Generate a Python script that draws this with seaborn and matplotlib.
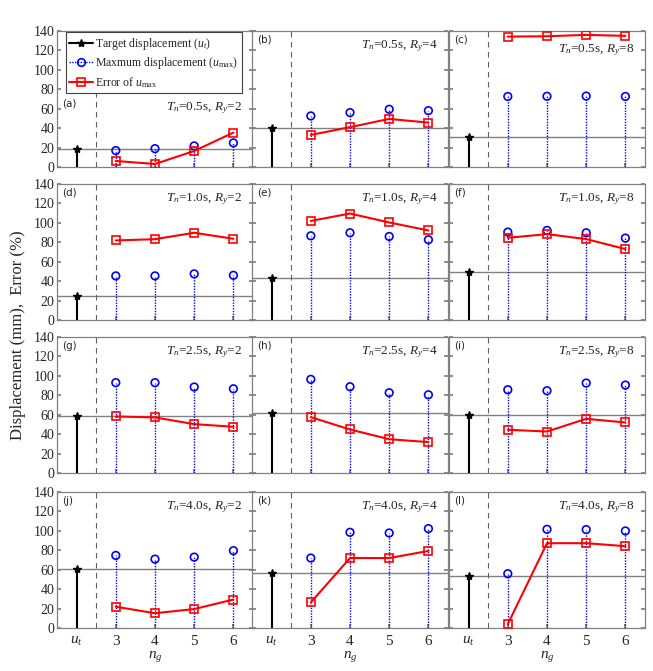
import numpy as np
import pandas as pd
import matplotlib.pyplot as plt
import seaborn as sns
from matplotlib.lines import Line2D

# Panel settings (rows: Tn, columns: Ry)
periods = ["0.5", "1.0", "2.5", "4.0"]
ratios = ["2", "4", "8"]
panel_tags = ["(a)", "(b)", "(c)", "(d)", "(e)", "(f)",
              "(g)", "(h)", "(i)", "(j)", "(k)", "(l)"]
ng_values = [3, 4, 5, 6]

# Target displacement u_t for each panel (mm)
target_disp = [18.6, 40.0, 30.8,
               24.8, 43.3, 49.2,
               58.9, 61.3, 59.2,
               61.0, 57.0, 53.4]

# Maximum displacement u_max for ng = 3..6 (mm)
max_disp = [
    [16.9, 18.9, 21.7, 24.8],
    [52.6, 56.0, 59.4, 58.0],
    [72.6, 72.8, 73.0, 72.6],
    [45.4, 45.4, 47.5, 46.0],
    [86.7, 89.8, 86.0, 82.6],
    [90.5, 92.2, 89.8, 84.3],
    [93.0, 93.0, 88.5, 86.7],
    [96.4, 88.8, 82.6, 80.5],
    [85.7, 84.7, 92.6, 90.5],
    [74.7, 70.9, 73.0, 79.6],
    [72.0, 98.5, 97.8, 102.3],
    [55.9, 101.6, 101.3, 99.9],
]

# Error of u_max (%)
error_pct = [
    [6.2, 3.1, 16.5, 35.4],
    [33.0, 41.0, 49.5, 45.7],
    [134.2, 134.6, 136.0, 135.0],
    [81.9, 83.2, 89.8, 83.6],
    [102.0, 109.6, 100.4, 92.2],
    [84.6, 88.4, 83.3, 73.0],
    [58.2, 57.2, 50.3, 47.6],
    [57.5, 44.8, 34.8, 31.8],
    [44.5, 42.7, 55.8, 52.0],
    [21.9, 15.2, 19.5, 29.3],
    [26.3, 72.0, 72.0, 79.3],
    [4.0, 87.3, 87.3, 84.2],
]

x_labels = ["$u_t$", "3", "4", "5", "6"]

sns.set_theme(style="white")
plt.rcParams["font.family"] = ["Liberation Serif", "DejaVu Serif"]
plt.rcParams["mathtext.fontset"] = "custom"
plt.rcParams["mathtext.rm"] = "Liberation Serif"
plt.rcParams["mathtext.it"] = "Liberation Serif:italic"

fig = plt.figure(figsize=(6.53, 6.71), dpi=100)
W, H = 653, 671
col_left = [57, 252, 449]
col_w = 196
row_top = [31, 184, 337, 492]
row_h = 136

x_pos = np.arange(2, 6)  # ng positions; u_t sits at 1

for i in range(12):
    r, c = divmod(i, 3)
    ax = fig.add_axes([col_left[c] / W, 1 - (row_top[r] + row_h) / H,
                       col_w / W, row_h / H])
    ut = target_disp[i]

    ax.axhline(ut, color="#808080", lw=1.0, zorder=1)
    ax.axvline(1.5, color="#606060", lw=0.8, ls=(0, (5, 4)), zorder=1)

    # target displacement stem
    ax.plot([1, 1], [0, ut], color="black", lw=1.5, zorder=3)
    ax.plot([1], [ut], marker="*", color="black", ms=6, zorder=4)

    # maximum displacement stems
    ax.vlines(x_pos, 0, max_disp[i], colors="blue", lw=1.0,
              linestyles=(0, (1, 1)), zorder=2)
    sns.scatterplot(x=x_pos, y=max_disp[i], ax=ax, marker="o", s=30,
                    facecolor="none", edgecolor="blue", linewidth=1.2, zorder=4)

    # error line
    df = pd.DataFrame({"ng": x_pos, "err": error_pct[i]})
    sns.lineplot(data=df, x="ng", y="err", ax=ax, color="red", lw=1.5,
                 marker="s", markersize=6, markerfacecolor="none",
                 markeredgecolor="red", markeredgewidth=1.2, zorder=5)

    ax.set_xlim(0.5, 5.5)
    ax.set_ylim(0, 140)
    ax.set_yticks(np.arange(0, 141, 20))
    ax.set_xticks([1, 2, 3, 4, 5])
    ax.set_xlabel("")
    ax.set_ylabel("")
    ax.tick_params(direction="in", length=3, color="#808080",
                   labelsize=10, pad=2, right=True, bottom=True, left=True)
    for sp in ax.spines.values():
        sp.set_color("#808080")
        sp.set_linewidth(0.9)

    if c == 0:
        ax.set_yticklabels([str(v) for v in range(0, 141, 20)])
    else:
        ax.set_yticklabels([])
    if r == 3:
        ax.set_xticklabels(x_labels, fontsize=11)
        ax.tick_params(axis="x", pad=5)
        ax.set_xlabel("$n_g$", fontsize=11, labelpad=1)
    else:
        ax.set_xticklabels([])

    note = "$T_n$=" + periods[r] + "s, $R_y$=" + ratios[c]
    if i == 0:
        ax.text(0.027, 0.47, panel_tags[i], transform=ax.transAxes,
                fontsize=7.5, family="DejaVu Sans", va="center")
        ax.text(0.945, 0.43, note, transform=ax.transAxes, ha="right",
                va="center", fontsize=9.5)
    else:
        ax.text(0.027, 0.935, panel_tags[i], transform=ax.transAxes,
                fontsize=7.5, family="DejaVu Sans", va="center")
        ny = 0.86 if i == 2 else 0.89
        ax.text(0.945, ny, note, transform=ax.transAxes, ha="right",
                va="center", fontsize=9.5)

    if i == 0:
        handles = [
            Line2D([], [], color="black", lw=1.5, marker="*", ms=6),
            Line2D([], [], color="blue", lw=1.0, ls=(0, (1, 1)), marker="o",
                   ms=5.5, markerfacecolor="none", markeredgewidth=1.2),
            Line2D([], [], color="red", lw=1.5, marker="s", ms=5.5,
                   markerfacecolor="none", markeredgewidth=1.2),
        ]
        labels = ["Target displacement ($u_t$)",
                  "Maxmum displacement ($u_{\\rm max}$)",
                  "Error of $u_{\\rm max}$"]
        leg = ax.legend(handles, labels, loc="upper left",
                        bbox_to_anchor=(0.045, 0.99), fontsize=8.5,
                        frameon=True, fancybox=False, framealpha=1,
                        edgecolor="#404040", handlelength=2.0,
                        handletextpad=0.2, borderpad=0.3, labelspacing=0.3,
                        borderaxespad=0)
        leg.get_frame().set_linewidth(0.8)
        leg.set_zorder(10)

fig.text(0.028, 0.5, "Displacement (mm),  Error (%)", rotation=90,
         ha="center", va="center", fontsize=12)

fig.savefig("out.png", dpi=100)
